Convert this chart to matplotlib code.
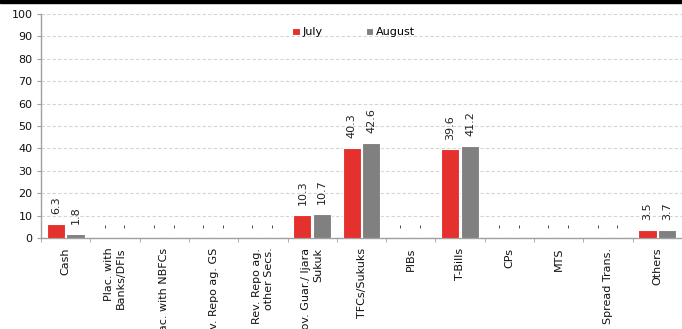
import matplotlib
matplotlib.use("Agg")
import matplotlib.pyplot as plt
import numpy as np
from matplotlib.patches import Rectangle

categories = [
    "Cash", "Plac. with\nBanks/DFIs", "Plac. with NBFCs", "Rev. Repo ag. GS",
    "Rev. Repo ag.\nother Secs.", "Gov. Guar./ Ijara\nSukuk", "TFCs/Sukuks",
    "PIBs", "T-Bills", "CPs", "MTS", "Spread Trans.", "Others",
]
july = [6.3, 0, 0, 0, 0, 10.3, 40.3, 0, 39.6, 0, 0, 0, 3.5]
august = [1.8, 0, 0, 0, 0, 10.7, 42.6, 0, 41.2, 0, 0, 0, 3.7]
series_names = ["July", "August"]
yticks = list(range(0, 101, 10))

RED = "#E5312E"
GREY = "#808080"
AXIS_GREY = "#A0A0A0"

plt.rcParams["font.family"] = ["DejaVu Sans"]
FS = 8

fig = plt.figure(figsize=(6.82, 3.29), dpi=100)
ax = fig.add_axes([41 / 682, 91 / 329, 641 / 682, 224 / 329])

x = np.arange(len(categories))
off = 0.2
w = 0.37
for vals, shift, col, name in [(july, -off, RED, series_names[0]),
                                (august, off, GREY, series_names[1])]:
    ax.bar(x + shift, vals, width=w, color=col, edgecolor="white",
           linewidth=0.8, label=name, zorder=3)
    for xi, v in zip(x + shift, vals):
        txt = f"{v:.1f}" if v > 0 else "-"
        ax.annotate(txt, (xi, v), xytext=(0, 7), textcoords="offset points",
                    rotation=90, ha="center", va="bottom", fontsize=FS,
                    color="#222222")

ax.set_xlim(-0.5, len(categories) - 0.5)
ax.set_ylim(0, 100)
ax.set_yticks(yticks)
ax.tick_params(axis="y", labelsize=FS, length=3, color=AXIS_GREY, pad=3,
               labelcolor="#111111")

ax.set_xticks(x)
ax.set_xticklabels(categories, rotation=90, ha="center", va="top",
                   multialignment="right", fontsize=FS, color="#111111")
ax.tick_params(axis="x", which="major", length=0, pad=7)
ax.set_xticks(np.arange(len(categories) + 1) - 0.5, minor=True)
ax.tick_params(axis="x", which="minor", length=3, color=AXIS_GREY)

ax.yaxis.grid(True, linestyle=(0, (3, 2)), color="#D4D4D4", linewidth=0.8,
              zorder=0)
ax.set_axisbelow(True)
for s in ["top", "right"]:
    ax.spines[s].set_visible(False)
for s in ["left", "bottom"]:
    ax.spines[s].set_color(AXIS_GREY)
    ax.spines[s].set_linewidth(1.0)

ax.legend(loc="upper left", bbox_to_anchor=(0.385, 0.96), ncol=2,
          frameon=False, fontsize=FS, handlelength=0.7, handleheight=0.7,
          handletextpad=0.2, columnspacing=3.9, borderaxespad=0)

fig.add_artist(Rectangle((0, 1 - 3 / 329), 1, 3 / 329,
                         transform=fig.transFigure, color="black"))

fig.savefig("out.png", dpi=100)
